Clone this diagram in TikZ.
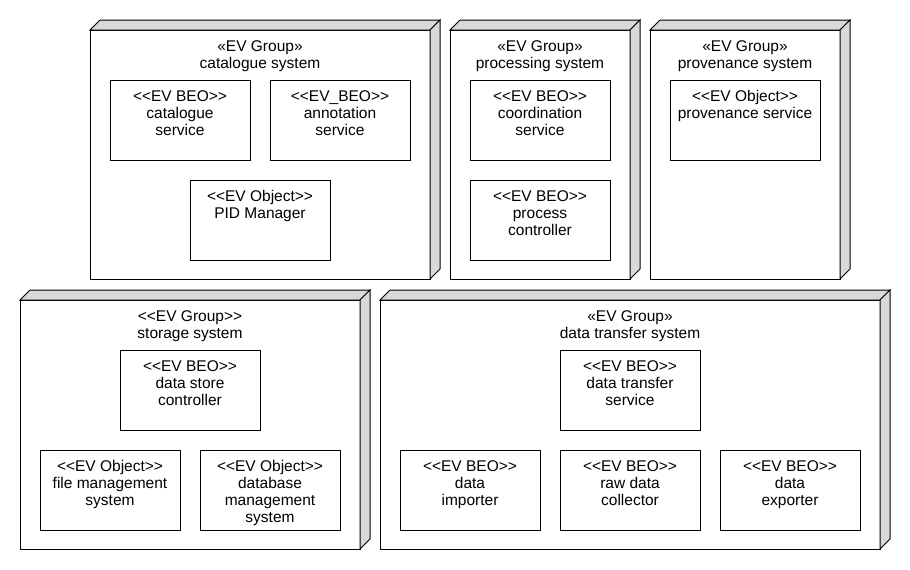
\documentclass[tikz,border=0pt]{standalone}
\usepackage{fontspec}
\setmainfont{Liberation Sans}
\definecolor{sidegray}{RGB}{217,217,217}
\tikzset{
  frontface/.style={draw=black, line width=1pt, fill=white, rectangle, inner sep=0pt, outer sep=0pt},
  sideface/.style={draw=black, line width=1pt, fill=sidegray, line join=miter},
  ibox/.style={draw=black, line width=1pt, fill=white, rectangle, inner sep=0pt, outer sep=0pt},
  itext/.style={font=\fontsize{15.5}{17}\selectfont, align=center, inner sep=0pt, anchor=north},
}
\newcommand\groupnode[6]{%
  \node[frontface, minimum width={#4-#2}, minimum height={#5-#3}] (#1) at ({(#2+#4)/2},{(#3+#5)/2}) {};
  \draw[sideface] (#1.north west) -- ++(10pt,10pt) -- ([shift={(10pt,10pt)}]#1.north east) -- (#1.north east) -- cycle;
  \draw[sideface] (#1.north east) -- ++(10pt,10pt) -- ([shift={(10pt,10pt)}]#1.south east) -- (#1.south east) -- cycle;
  \node[itext] (#1-t) at ([yshift=-9.5pt]#1.north) {\rule{0pt}{12pt}#6};
}
\newcommand\innerbox[6]{%
  \node[ibox, minimum width={#4-#2}, minimum height={#5-#3}] (#1) at ({(#2+#4)/2},{(#3+#5)/2}) {};
  \node[itext] (#1-t) at ([yshift=-9.5pt]#1.north) {\rule{0pt}{12pt}#6};
}
\begin{document}
\begin{tikzpicture}[x=1pt, y=-1pt]
\useasboundingbox[fill=white] (0,0) rectangle (910,570);
% top row
\groupnode{cat}{90}{30}{430}{279}{«EV Group»\\catalogue system}
\innerbox{catsrv}{110}{80}{250}{160}{<{}<EV BEO>{}>\\catalogue\\service}
\innerbox{annsrv}{270}{80}{410}{160}{<{}<EV\_BEO>{}>\\annotation\\service}
\innerbox{pid}{190}{180}{330}{260}{<{}<EV Object>{}>\\PID Manager}
\groupnode{proc}{450}{30}{630}{279}{«EV Group»\\processing system}
\innerbox{coord}{470}{80}{610}{160}{<{}<EV BEO>{}>\\coordination\\service}
\innerbox{pctl}{470}{180}{610}{260}{<{}<EV BEO>{}>\\process\\controller}
\groupnode{prov}{650}{30}{840}{279}{«EV Group»\\provenance system}
\innerbox{provsrv}{670}{80}{820}{160}{<{}<EV Object>{}>\\provenance service}
% bottom row
\groupnode{stor}{20}{300}{360}{549}{<{}<EV Group>{}>\\storage system}
\innerbox{dsc}{120}{350}{260}{430}{<{}<EV BEO>{}>\\data store\\controller}
\innerbox{fms}{40}{450}{180}{530}{<{}<EV Object>{}>\\file management\\system}
\innerbox{dbms}{200}{450}{340}{530}{<{}<EV Object>{}>\\database\\management\\system}
\groupnode{dts}{380}{300}{880}{549}{«EV Group»\\data transfer system}
\innerbox{dtsrv}{560}{350}{700}{430}{<{}<EV BEO>{}>\\data transfer\\service}
\innerbox{dimp}{400}{450}{540}{530}{<{}<EV BEO>{}>\\data\\importer}
\innerbox{rdc}{560}{450}{700}{530}{<{}<EV BEO>{}>\\raw data\\collector}
\innerbox{dexp}{720}{450}{860}{530}{<{}<EV BEO>{}>\\data\\exporter}
\end{tikzpicture}
\end{document}
